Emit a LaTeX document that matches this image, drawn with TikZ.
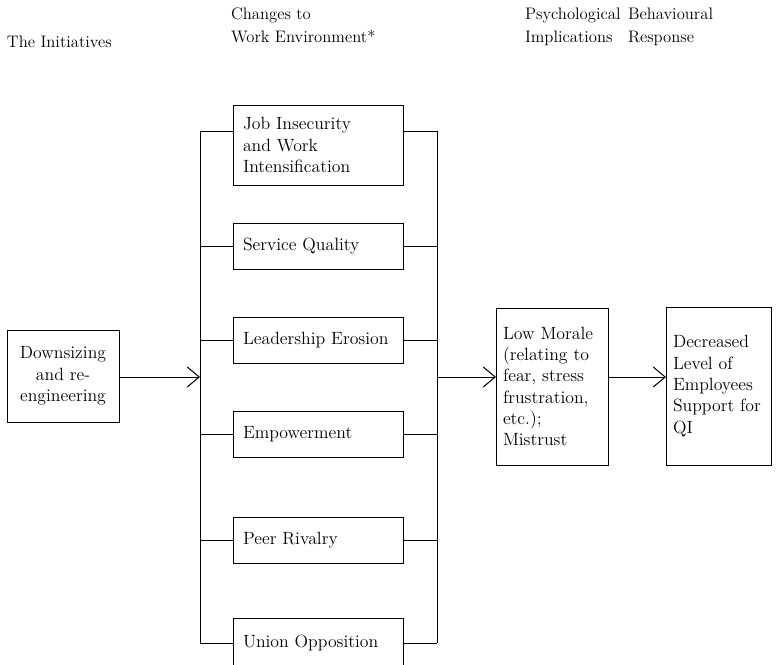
\documentclass[tikz,border=0pt]{standalone}
\usetikzlibrary{arrows.meta}
\begin{document}
\begin{tikzpicture}[x=0.75pt,y=-0.75pt,
  every node/.style={inner sep=0pt, outer sep=0pt},
  hdr/.style={font=\fontsize{12.5}{17.25}\selectfont, align=left},
  txt/.style={font=\fontsize{13.3}{16}\selectfont},
  box/.style={txt, draw, line width=0.75pt, rectangle, align=left},
  midbox/.style={box, inner xsep=7.5pt, text width=112.5pt, minimum height=34.5pt},
  line/.style={line width=0.75pt},
  arr/.style={line width=0.75pt, -{Straight Barb[length=9pt,width=15pt,line width=0.75pt]}}]
\useasboundingbox (0,0) rectangle (776,665);

% headers
\node[hdr, anchor=west] (h1) at (7,42) {The Initiatives};
\node[hdr, anchor=north west] (h2) at (231,8) {Changes to\\Work Environment*};
\node[hdr, anchor=north west] (h3) at (525,8) {Psychological\\Implications};
\node[hdr, anchor=north west] (h4) at (628,8) {Behavioural\\Response};

% left box
\node[box, align=center, inner xsep=5pt, text width=74pt, minimum height=69pt] (down) at (63,376) {Downsizing\\and re-\\engineering};

% middle column
\node[midbox, minimum height=60pt] (job) at (318,145) {Job Insecurity\\and Work\\Intensification};
\node[midbox] (sq)   at (318,246) {Service Quality};
\node[midbox] (lead) at (318,340.5) {Leadership Erosion};
\node[midbox] (emp)  at (318,434) {Empowerment};
\node[midbox] (peer) at (318,540) {Peer Rivalry};
\node[midbox, minimum height=37.5pt] (union) at (318,643) {Union Opposition};

% right boxes
\node[box, inner xsep=5.25pt, text width=73.5pt, minimum height=117.75pt] (mor) at (552,386.5)
  {Low Morale\\(relating to\\fear, stress\\frustration,\\etc.);\\Mistrust};
\node[box, inner xsep=5.25pt, text width=68.25pt, minimum height=118.5pt] (dec) at (718.5,386)
  {Decreased\\Level of\\Employees\\Support for\\QI};

% buses
\coordinate (lt) at (200,131);
\coordinate (lb) at (200,643);
\coordinate (rt) at (437,131);
\coordinate (rb) at (437,643);
\coordinate (ain) at (200,377);
\coordinate (aout) at (437,377);
\draw[line] (lt) -- (lb);
\draw[line] (rt) -- (rb);

\draw[line] (lt) -- (lt -| job.west);
\draw[line] (rt) -- (rt -| job.east);
\foreach \b in {sq,lead,emp,peer,union}{
  \draw[line] (\b.west) -- (\b.west -| lt);
  \draw[line] (\b.east) -- (\b.east -| rt);
}

% arrows
\draw[arr] (down.east |- ain) -- (ain);
\draw[arr] (aout) -- (aout -| mor.west);
\draw[arr] (mor.east |- aout) -- (aout -| dec.west);
\end{tikzpicture}
\end{document}
